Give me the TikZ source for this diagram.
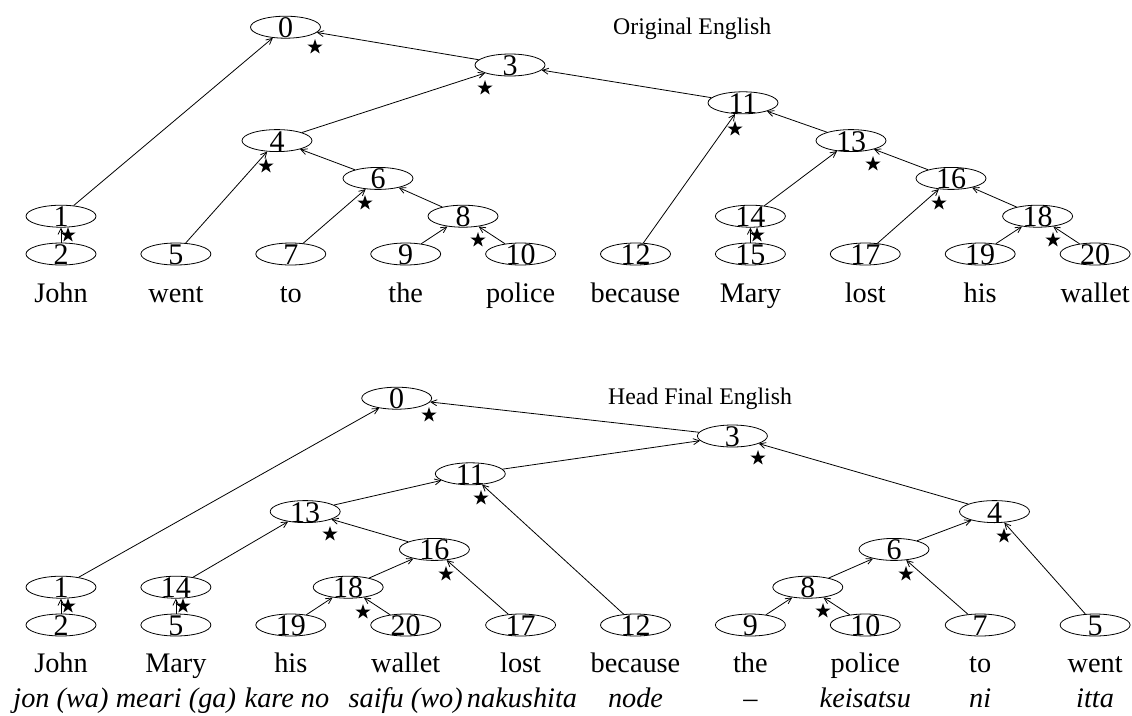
\documentclass[tikz,border=0pt]{standalone}
\usepackage{fontspec}
\setmainfont{Liberation Serif}
\usetikzlibrary{shapes.geometric,arrows.meta}
\tikzset{
  ell/.style={ellipse,draw,line width=0.8pt,minimum width=70pt,minimum height=22pt,inner sep=0pt},
  num/.style={anchor=base,yshift=-10.5pt,inner sep=0pt,font=\fontsize{30}{30}\selectfont},
  edge/.style={line width=0.8pt,-{Straight Barb[length=6pt,width=6pt,line width=0.8pt]}},
  word/.style={anchor=base,inner sep=0pt,font=\fontsize{28.3}{30}\selectfont},
  jword/.style={anchor=base,inner sep=0pt,font=\fontsize{28.3}{30}\selectfont\itshape},
  title/.style={anchor=base west,inner sep=0pt,font=\fontsize{23.8}{26}\selectfont},
  hd/.style={star,star points=5,star point ratio=2.6,fill=black,draw=none,minimum size=16pt,inner sep=0pt}
}
\newcommand{\tn}[4]{\node[ell] (#1) at (#2,#3) {}; \node[num] (#1l) at (#1.center) {#4};}
\newcommand{\hstar}[3]{\node[hd] (#1) at (#2,#3+1) {};}
\begin{document}
\begin{tikzpicture}[x=1pt,y=-1pt]
\useasboundingbox (0,0) rectangle (1132,715);
% ---------------- Original English ----------------
\node[title] (title1) at (613,34) {Original English};
\tn{t0}{285.5}{27.2}{0}
\tn{t3}{510}{65}{3}
\tn{t11}{743}{102.8}{11}
\tn{t4}{277}{140.6}{4}
\tn{t13}{851}{140.6}{13}
\tn{t6}{378}{178.4}{6}
\tn{t16}{951}{178.4}{16}
\tn{t1}{61}{216.2}{1}
\tn{t8}{463}{216.2}{8}
\tn{t14}{750.4}{216.2}{14}
\tn{t18}{1037.6}{216.2}{18}
\tn{t2}{61}{254}{2}
\tn{t5}{175.9}{254}{5}
\tn{t7}{290.8}{254}{7}
\tn{t9}{405.7}{254}{9}
\tn{t10}{520.6}{254}{10}
\tn{t12}{635.5}{254}{12}
\tn{t15}{750.4}{254}{15}
\tn{t17}{865.3}{254}{17}
\tn{t19}{980.2}{254}{19}
\tn{t20}{1095.1}{254}{20}
\draw[edge] (t1) -- (t0);
\draw[edge] (t3) -- (t0);
\draw[edge] (t2) -- (t1);
\draw[edge] (t4) -- (t3);
\draw[edge] (t11) -- (t3);
\draw[edge] (t5) -- (t4);
\draw[edge] (t6) -- (t4);
\draw[edge] (t7) -- (t6);
\draw[edge] (t8) -- (t6);
\draw[edge] (t9) -- (t8);
\draw[edge] (t10) -- (t8);
\draw[edge] (t12) -- (t11);
\draw[edge] (t13) -- (t11);
\draw[edge] (t14) -- (t13);
\draw[edge] (t16) -- (t13);
\draw[edge] (t15) -- (t14);
\draw[edge] (t17) -- (t16);
\draw[edge] (t18) -- (t16);
\draw[edge] (t19) -- (t18);
\draw[edge] (t20) -- (t18);
\hstar{ts0}{315}{46}
\hstar{ts3}{485}{87}
\hstar{ts11}{735}{128}
\hstar{ts4}{266}{165}
\hstar{ts6}{365}{202}
\hstar{ts8}{478}{239}
\hstar{ts1}{68}{234}
\hstar{ts14}{757}{234}
\hstar{ts13}{873}{163}
\hstar{ts16}{939}{202}
\hstar{ts18}{1053}{239}
\node[word] (tw0) at (61,302) {John};
\node[word] (tw1) at (175.9,302) {went};
\node[word] (tw2) at (290.8,302) {to};
\node[word] (tw3) at (405.7,302) {the};
\node[word] (tw4) at (520.6,302) {police};
\node[word] (tw5) at (635.5,302) {because};
\node[word] (tw6) at (750.4,302) {Mary};
\node[word] (tw7) at (865.3,302) {lost};
\node[word] (tw8) at (980.2,302) {his};
\node[word] (tw9) at (1095.1,302) {wallet};
% ---------------- Head Final English ----------------
\node[title] (title2) at (608,404) {Head Final English};
\tn{b0}{396.7}{398.2}{0}
\tn{b3}{732.4}{436}{3}
\tn{b11}{470.3}{473.8}{11}
\tn{b13}{305.2}{511.6}{13}
\tn{b4}{994.5}{511.6}{4}
\tn{b16}{434.4}{549.4}{16}
\tn{b6}{894}{549.4}{6}
\tn{b1}{61}{587.2}{1}
\tn{b14}{175.9}{587.2}{14}
\tn{b18}{348.2}{587.2}{18}
\tn{b8}{807.8}{587.2}{8}
\tn{b2}{61}{625}{2}
\tn{b5a}{175.9}{625}{5}
\tn{b19}{290.8}{625}{19}
\tn{b20}{405.7}{625}{20}
\tn{b17}{520.6}{625}{17}
\tn{b12}{635.5}{625}{12}
\tn{b9}{750.4}{625}{9}
\tn{b10}{865.3}{625}{10}
\tn{b7}{980.2}{625}{7}
\tn{b5}{1095.1}{625}{5}
\draw[edge] (b1) -- (b0);
\draw[edge] (b3) -- (b0);
\draw[edge] (b2) -- (b1);
\draw[edge] (b11) -- (b3);
\draw[edge] (b4) -- (b3);
\draw[edge] (b13) -- (b11);
\draw[edge] (b12) -- (b11);
\draw[edge] (b14) -- (b13);
\draw[edge] (b16) -- (b13);
\draw[edge] (b5a) -- (b14);
\draw[edge] (b18) -- (b16);
\draw[edge] (b17) -- (b16);
\draw[edge] (b19) -- (b18);
\draw[edge] (b20) -- (b18);
\draw[edge] (b6) -- (b4);
\draw[edge] (b5) -- (b4);
\draw[edge] (b8) -- (b6);
\draw[edge] (b7) -- (b6);
\draw[edge] (b9) -- (b8);
\draw[edge] (b10) -- (b8);
\hstar{bs0}{429}{414}
\hstar{bs3}{758}{457}
\hstar{bs11}{481}{497}
\hstar{bs13}{330}{533}
\hstar{bs16}{446}{573}
\hstar{bs18}{363}{611}
\hstar{bs1}{68}{605}
\hstar{bs14}{183}{605}
\hstar{bs4}{1004}{535}
\hstar{bs6}{906}{573}
\hstar{bs8}{823}{610}
\node[word] (bw0) at (61,672) {John};
\node[word] (bw1) at (175.9,672) {Mary};
\node[word] (bw2) at (290.8,672) {his};
\node[word] (bw3) at (405.7,672) {wallet};
\node[word] (bw4) at (520.6,672) {lost};
\node[word] (bw5) at (635.5,672) {because};
\node[word] (bw6) at (750.4,672) {the};
\node[word] (bw7) at (865.3,672) {police};
\node[word] (bw8) at (980.2,672) {to};
\node[word] (bw9) at (1095.1,672) {went};
\node[jword] (jw0) at (61,707) {jon (wa)};
\node[jword] (jw1) at (175.9,707) {meari (ga)};
\node[jword] (jw2) at (287,707) {kare no};
\node[jword] (jw3) at (405.7,707) {saifu (wo)};
\node[jword] (jw4) at (522,707) {nakushita};
\node[jword] (jw5) at (635.5,707) {node};
\node[jword] (jw6) at (750.4,707) {--};
\node[jword] (jw7) at (865.3,707) {keisatsu};
\node[jword] (jw8) at (980.2,707) {ni};
\node[jword] (jw9) at (1095.1,707) {itta};
\end{tikzpicture}
\end{document}
